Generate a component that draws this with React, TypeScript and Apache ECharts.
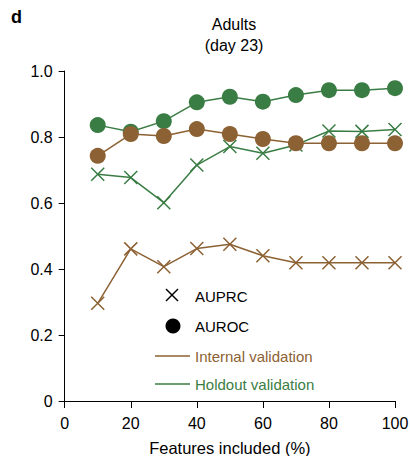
import React, { useEffect, useRef } from "react";
import * as echarts from "echarts";

const features = [10, 20, 30, 40, 50, 60, 70, 80, 90, 100];
const internalAUPRC = [0.296, 0.461, 0.407, 0.462, 0.475, 0.44, 0.419, 0.419, 0.419, 0.419];
const internalAUROC = [0.743, 0.809, 0.803, 0.824, 0.809, 0.794, 0.781, 0.781, 0.781, 0.781];
const holdoutAUPRC = [0.687, 0.677, 0.601, 0.715, 0.771, 0.751, 0.776, 0.818, 0.817, 0.823];
const holdoutAUROC = [0.836, 0.816, 0.848, 0.905, 0.922, 0.907, 0.927, 0.942, 0.942, 0.948];

const BROWN = "#8c6133";
const GREEN = "#3a7d44";
const FONT = "Liberation Sans, Arial, sans-serif";
const CROSS = "path://M0,0L10,10M10,0L0,10";

const pairs = (ys: number[]) => features.map((x, i) => [x, ys[i]]);

export default function App() {
  const ref = useRef<HTMLDivElement>(null);
  useEffect(() => {
    const chart = echarts.init(ref.current!, null, { renderer: "svg" });
    const crossSeries = (name: string, data: number[], color: string) => ({
      name,
      type: "line",
      data: pairs(data),
      symbol: CROSS,
      symbolSize: 13,
      lineStyle: { color, width: 1.5 },
      itemStyle: { color: "none", borderColor: color, borderWidth: 1.5 },
      z: 2,
    });
    const dotSeries = (name: string, data: number[], color: string, z: number) => ({
      name,
      type: "line",
      data: pairs(data),
      symbol: "circle",
      symbolSize: 16,
      showSymbol: true,
      lineStyle: { color, width: 1.5 },
      itemStyle: { color, borderWidth: 0 },
      z,
    });
    chart.setOption({
      animation: false,
      textStyle: { fontFamily: FONT },
      grid: { left: 64.7, right: 15, top: 71, bottom: 55, outerBoundsMode: "none", containLabel: false },
      xAxis: {
        type: "value",
        min: 0,
        max: 100,
        interval: 20,
        name: "Features included (%)",
        nameLocation: "middle",
        nameGap: 38,
        nameTextStyle: { fontSize: 16.5, color: "#000", fontFamily: FONT },
        axisLine: { lineStyle: { color: "#000", width: 1 } },
        axisTick: { show: true, length: 7, lineStyle: { color: "#000" } },
        axisLabel: { fontSize: 16, color: "#000", margin: 14, fontFamily: FONT },
        splitLine: { show: false },
      },
      yAxis: {
        type: "value",
        min: 0,
        max: 1,
        interval: 0.2,
        axisLine: { show: true, lineStyle: { color: "#000", width: 1 } },
        axisTick: { show: true, length: 6, lineStyle: { color: "#000" } },
        axisLabel: {
          fontSize: 16,
          color: "#000",
          margin: 12,
          fontFamily: FONT,
          formatter: (v: number) => (v === 0 ? "0" : v.toFixed(1)),
        },
        splitLine: { show: false },
      },
      series: [
        crossSeries("Holdout AUPRC", holdoutAUPRC, GREEN),
        dotSeries("Holdout AUROC", holdoutAUROC, GREEN, 3),
        crossSeries("Internal AUPRC", internalAUPRC, BROWN),
        dotSeries("Internal AUROC", internalAUROC, BROWN, 4),
      ],
      graphic: [
        { type: "text", x: 11, y: 17, style: { text: "d", font: `bold 18px ${FONT}`, fill: "#000", verticalAlign: "middle" } },
        {
          type: "text",
          x: 234,
          y: 35,
          style: {
            text: "Adults\n(day 23)",
            font: `16px ${FONT}`,
            fill: "#000",
            align: "center",
            verticalAlign: "middle",
            lineHeight: 21,
          },
        },
        { type: "line", shape: { x1: 166, y1: 289, x2: 178, y2: 301 }, style: { stroke: "#000", lineWidth: 1.5 } },
        { type: "line", shape: { x1: 178, y1: 289, x2: 166, y2: 301 }, style: { stroke: "#000", lineWidth: 1.5 } },
        { type: "text", x: 195, y: 296, style: { text: "AUPRC", font: `15px ${FONT}`, fill: "#000", verticalAlign: "middle" } },
        { type: "circle", shape: { cx: 173, cy: 326, r: 7.5 }, style: { fill: "#000" } },
        { type: "text", x: 195, y: 326, style: { text: "AUROC", font: `15px ${FONT}`, fill: "#000", verticalAlign: "middle" } },
        { type: "line", shape: { x1: 155, y1: 356, x2: 190, y2: 356 }, style: { stroke: BROWN, lineWidth: 1.5 } },
        { type: "text", x: 195, y: 356, style: { text: "Internal validation", font: `15px ${FONT}`, fill: BROWN, verticalAlign: "middle" } },
        { type: "line", shape: { x1: 155, y1: 384, x2: 190, y2: 384 }, style: { stroke: GREEN, lineWidth: 1.5 } },
        { type: "text", x: 195, y: 384, style: { text: "Holdout validation", font: `15px ${FONT}`, fill: GREEN, verticalAlign: "middle" } },
      ],
    });
    return () => chart.dispose();
  }, []);
  return <div ref={ref} style={{ width: 410, height: 456, position: "absolute", left: 0, top: 0 }} />;
}
